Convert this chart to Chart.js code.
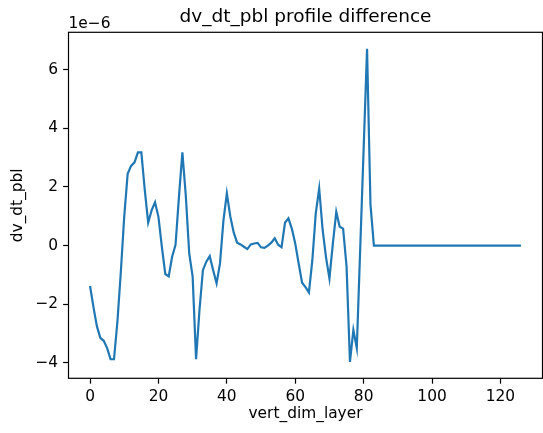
<!DOCTYPE html>
<html>
<head>
<meta charset="utf-8">
<script src="https://cdn.jsdelivr.net/npm/chart.js@4/dist/chart.umd.min.js"></script>
<style>
  html, body { margin: 0; padding: 0; background: #fff; }
  #wrap { width: 543px; height: 433px; }
</style>
</head>
<body>
<div id="wrap"><canvas id="chart" width="543" height="433"></canvas></div>
<script>
// values in units of 1e-6, one per vertical layer (0..126)
var dvDtPbl = [
    -1.38, -2.10, -2.75, -3.15, -3.25, -3.50, -3.88, -3.88, -2.60, -0.90,
     1.00,  2.45,  2.72,  2.84,  3.18,  3.18,  1.90,  0.78,  1.20,  1.48,
     0.98, -0.04, -0.97, -1.05, -0.38,  0.03,  1.67,  3.18,  1.70, -0.27,
    -1.06, -3.88, -2.20, -0.84, -0.55, -0.36, -0.84, -1.29, -0.61,  0.85,
     1.78,  1.00,  0.45,  0.10,  0.04, -0.04, -0.12,  0.04,  0.07,  0.09,
    -0.06, -0.08,  0.00,  0.10,  0.25,  0.03, -0.06,  0.78,  0.93,  0.58,
     0.07, -0.61, -1.27, -1.42, -1.60, -0.50,  1.10,  1.95,  0.55, -0.40,
    -1.12,  0.07,  1.15,  0.64,  0.58, -0.70, -3.97, -2.88, -3.50, -0.10,
     3.30,  6.72,  1.40,  0.00,  0.00,  0.00,  0.00,  0.00,  0.00,  0.00,
     0.00,  0.00,  0.00,  0.00,  0.00,  0.00,  0.00,  0.00,  0.00,  0.00,
     0.00,  0.00,  0.00,  0.00,  0.00,  0.00,  0.00,  0.00,  0.00,  0.00,
     0.00,  0.00,  0.00,  0.00,  0.00,  0.00,  0.00,  0.00,  0.00,  0.00,
     0.00,  0.00,  0.00,  0.00,  0.00,  0.00,  0.00
];
var xTicks = [0, 20, 40, 60, 80, 100, 120];
var yTicks = [-4, -2, 0, 2, 4, 6];
var offsetLabel = '1e\u22126';

var FONT = "'DejaVu Sans', sans-serif";
var LABEL_SIZE = 15.4;
var TITLE_SIZE = 18.5;

function mplNum(v) {
    return v < 0 ? '\u2212' + Math.abs(v) : String(v);
}

// matplotlib-like frame (all four spines) and the exponent label
var framePlugin = {
    id: 'frame',
    afterDatasetsDraw: function (chart) {
        var a = chart.chartArea, ctx = chart.ctx;
        ctx.save();
        ctx.strokeStyle = '#000';
        ctx.lineWidth = 1.2;
        ctx.strokeRect(a.left, a.top, a.right - a.left, a.bottom - a.top);
        ctx.fillStyle = '#000';
        ctx.font = LABEL_SIZE + 'px ' + FONT;
        ctx.textAlign = 'left';
        ctx.textBaseline = 'alphabetic';
        ctx.fillText(offsetLabel, a.left, 27.5);
        ctx.restore();
    }
};

Chart.defaults.font.family = FONT;
Chart.defaults.color = '#000';

new Chart(document.getElementById('chart'), {
    type: 'line',
    data: {
        datasets: [{
            label: 'dv_dt_pbl',
            data: dvDtPbl.map(function (v, i) { return { x: i, y: v }; }),
            borderColor: '#1f77b4',
            borderWidth: 2.2,
            pointRadius: 0,
            tension: 0,
            fill: false
        }]
    },
    options: {
        responsive: false,
        devicePixelRatio: 1,
        animation: false,
        layout: { padding: { left: 0, right: 0.5, top: 0, bottom: 0 } },
        plugins: {
            legend: { display: false },
            tooltip: { enabled: false },
            title: {
                display: true,
                text: 'dv_dt_pbl profile difference',
                fullSize: false,
                color: '#000',
                font: { size: TITLE_SIZE, weight: 'normal', family: FONT, lineHeight: 1.2 },
                padding: { top: 5.8, bottom: 4.3 }
            }
        },
        scales: {
            x: {
                type: 'linear',
                min: -6.3,
                max: 132.3,
                afterBuildTicks: function (s) { s.ticks = xTicks.map(function (v) { return { value: v }; }); },
                afterFit: function (s) { s.height = 54.7; },
                ticks: {
                    font: { size: LABEL_SIZE },
                    color: '#000',
                    padding: 4,
                    maxRotation: 0,
                    callback: function (v) { return mplNum(v); }
                },
                grid: { display: true, drawOnChartArea: false, drawTicks: true, tickLength: 5.4, tickWidth: 1.2, tickColor: '#000' },
                border: { display: false },
                title: {
                    display: true,
                    text: 'vert_dim_layer',
                    color: '#000',
                    font: { size: LABEL_SIZE, lineHeight: 1.2 },
                    padding: { top: 0, bottom: 10 }
                }
            },
            y: {
                type: 'linear',
                min: -4.53,
                max: 7.28,
                afterBuildTicks: function (s) { s.ticks = yTicks.map(function (v) { return { value: v }; }); },
                afterFit: function (s) { s.width = 68.5; },
                ticks: {
                    font: { size: LABEL_SIZE },
                    color: '#000',
                    padding: 5,
                    callback: function (v) { return mplNum(v); }
                },
                grid: { display: true, drawOnChartArea: false, drawTicks: true, tickLength: 5.4, tickWidth: 1.2, tickColor: '#000' },
                border: { display: false },
                title: {
                    display: true,
                    text: 'dv_dt_pbl',
                    color: '#000',
                    font: { size: LABEL_SIZE, lineHeight: 1.2 },
                    padding: { top: 8.5, bottom: 0 }
                }
            }
        }
    },
    plugins: [framePlugin]
});
</script>
</body>
</html>
